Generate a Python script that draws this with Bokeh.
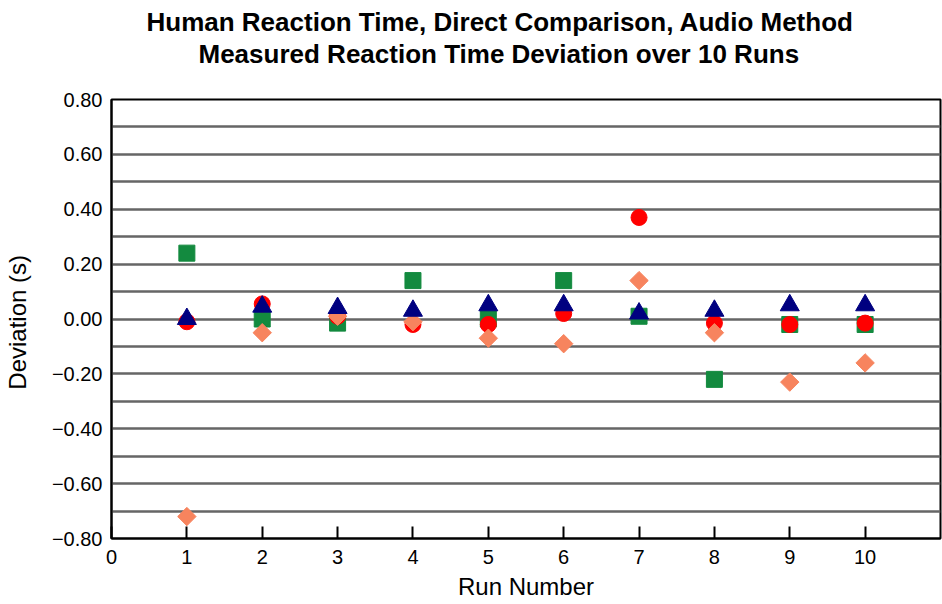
from bokeh.plotting import figure
from bokeh.models import FixedTicker, CustomJSTickFormatter, Range1d, Title
from bokeh.embed import file_html
from bokeh.resources import INLINE
import numpy as np

runs = [1, 2, 3, 4, 5, 6, 7, 8, 9, 10]
green_sq = [0.24, 0.00, -0.015, 0.14, 0.00, 0.14, 0.01, -0.22, -0.02, -0.02]
red_circ = [-0.01, 0.055, 0.01, -0.02, -0.02, 0.02, 0.37, -0.015, -0.02, -0.015]
salmon_dia = [-0.72, -0.05, 0.01, -0.01, -0.07, -0.09, 0.14, -0.05, -0.23, -0.16]
navy_tri = [0.00, 0.045, 0.04, 0.03, 0.05, 0.05, 0.02, 0.03, 0.05, 0.05]

x_ticks = [0, 1, 2, 3, 4, 5, 6, 7, 8, 9, 10]
y_ticks = [-0.8, -0.6, -0.4, -0.2, 0.0, 0.2, 0.4, 0.6, 0.8]
y_minor = [-0.7, -0.5, -0.3, -0.1, 0.1, 0.3, 0.5, 0.7]

title_lines = ["Human Reaction Time, Direct Comparison, Audio Method",
               "Measured Reaction Time Deviation over 10 Runs"]

FONT = "Liberation Sans"

p = figure(width=942, height=604, output_backend="svg", toolbar_location=None,
           x_range=Range1d(0, 11), y_range=Range1d(-0.8, 0.8),
           min_border_left=110, min_border_right=2, min_border_top=99, min_border_bottom=66)

p.title.visible = False
spacer = Title(text=" ", text_font_size="1px", standoff=28, text_color="white")
t2 = Title(text=title_lines[1], align="left", offset=87, standoff=0,
           text_font=FONT, text_font_size="26px", text_font_style="bold", text_color="black")
t1 = Title(text=title_lines[0], align="left", offset=35, standoff=0,
           text_font=FONT, text_font_size="26px", text_font_style="bold", text_color="black")
p.add_layout(spacer, "above")
p.add_layout(t2, "above")
p.add_layout(t1, "above")

p.outline_line_color = "black"
p.outline_line_width = 2
p.background_fill_color = "white"
p.border_fill_color = "white"

# grids
p.xgrid.grid_line_color = None
p.ygrid.grid_line_color = "#666666"
p.ygrid.grid_line_width = 2.5
p.ygrid.minor_grid_line_color = "#666666"
p.ygrid.minor_grid_line_width = 2.5

# y axis
p.yaxis.ticker = FixedTicker(ticks=y_ticks, minor_ticks=y_minor)
p.yaxis.formatter = CustomJSTickFormatter(code="return (tick < -1e-9 ? '\u2212' : '') + Math.abs(tick).toFixed(2);")
p.yaxis.axis_label = "Deviation  (s)"
p.yaxis.axis_label_text_font = FONT
p.yaxis.axis_label_text_font_size = "24px"
p.yaxis.axis_label_text_font_style = "normal"
p.yaxis.axis_label_text_color = "black"
p.yaxis.major_label_text_font = FONT
p.yaxis.major_label_text_font_size = "20px"
p.yaxis.major_label_text_color = "black"
p.yaxis.major_tick_out = 0
p.yaxis.major_tick_in = 0
p.yaxis.minor_tick_out = 0
p.yaxis.minor_tick_in = 0
p.yaxis.axis_line_color = "black"
p.yaxis.axis_line_width = 2
p.yaxis.major_label_standoff = 9
p.yaxis.axis_label_standoff = 18

# x axis
p.xaxis.ticker = FixedTicker(ticks=x_ticks)
p.xaxis.axis_label = "Run Number"
p.xaxis.axis_label_text_font = FONT
p.xaxis.axis_label_text_font_size = "24px"
p.xaxis.axis_label_text_font_style = "normal"
p.xaxis.axis_label_text_color = "black"
p.xaxis.major_label_text_font = FONT
p.xaxis.major_label_text_font_size = "20px"
p.xaxis.major_label_text_color = "black"
p.xaxis.major_tick_out = 0
p.xaxis.major_tick_in = 12
p.xaxis.major_tick_line_width = 2
p.xaxis.major_tick_line_color = "black"
p.xaxis.minor_tick_out = 0
p.xaxis.minor_tick_in = 0
p.xaxis.axis_line_color = "black"
p.xaxis.axis_line_width = 2
p.xaxis.major_label_standoff = 11
p.xaxis.axis_label_standoff = 6

p.scatter(runs, green_sq, marker="square", size=16, color="#138a3f")
p.scatter(runs, red_circ, marker="circle", size=16, color="#ff0000")
p.scatter(runs, salmon_dia, marker="square", angle=np.pi / 4, size=13, color="#f7845e")
p.scatter(runs, navy_tri, marker="triangle", size=19, color="#000080")

open("out.html", "w").write(file_html(p, INLINE))
